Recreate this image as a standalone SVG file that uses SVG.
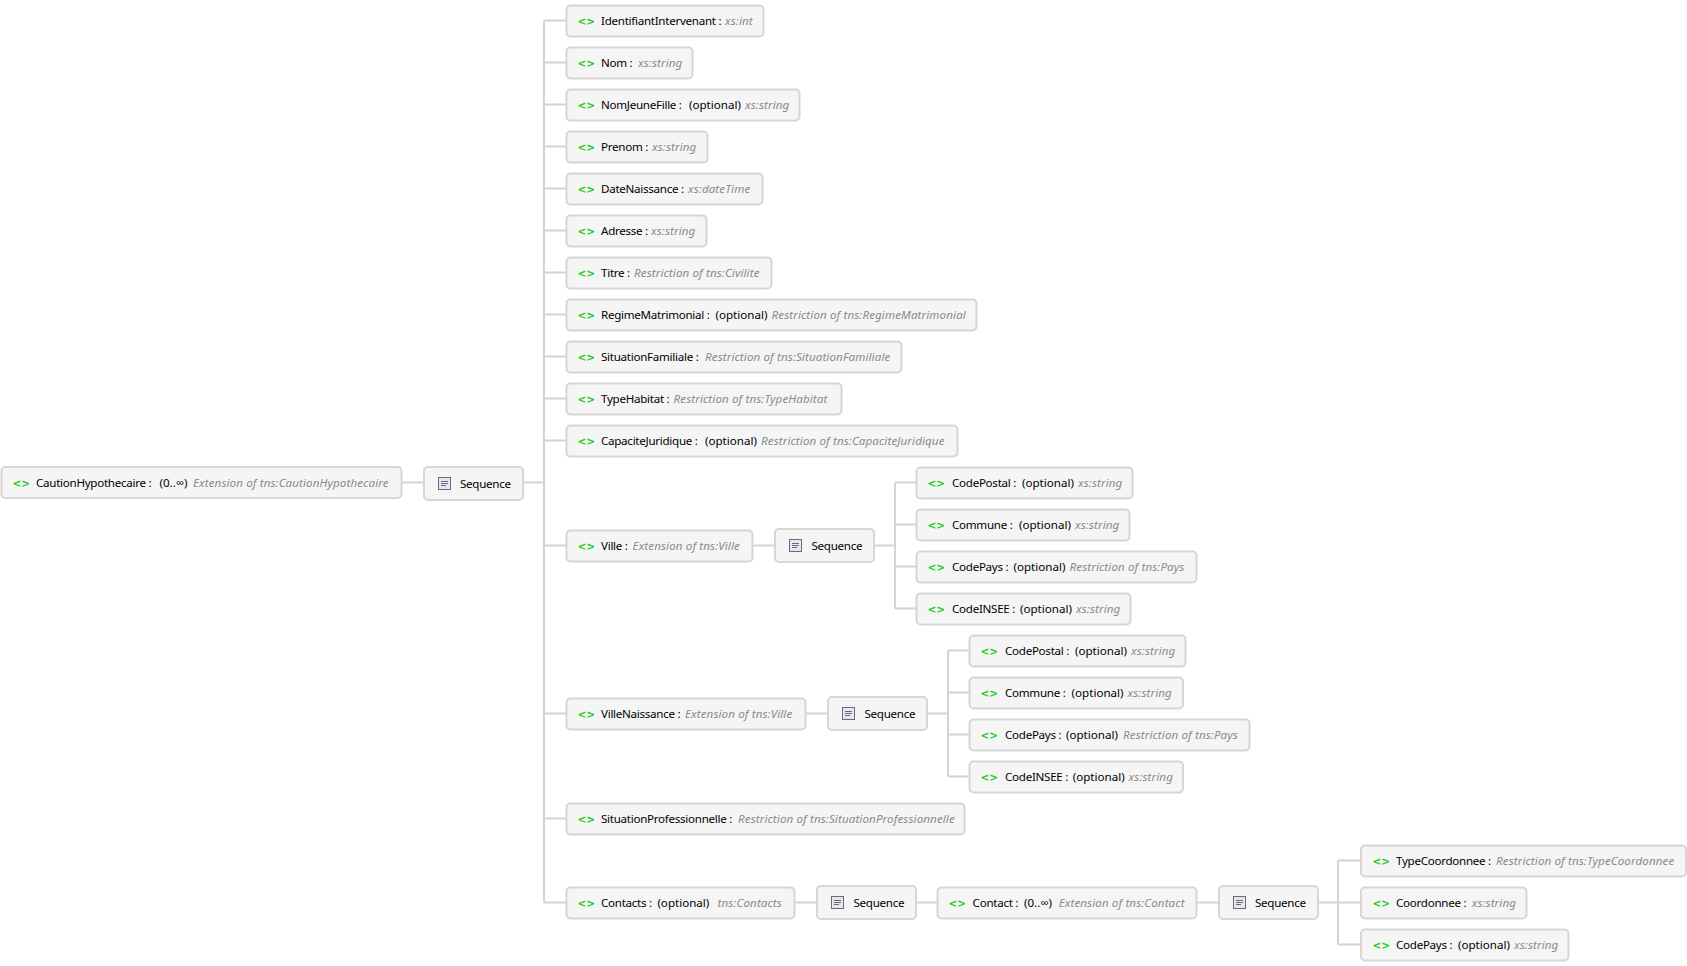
<svg xmlns="http://www.w3.org/2000/svg" width="1687" height="966" viewBox="0 0 1687 966">
<style>
text{font-family:"Noto Sans","Open Sans",sans-serif;font-size:11.6px;fill:#000;letter-spacing:-.28px}
.b{fill:#f5f5f5;stroke:#d6d6d6;stroke-width:2;transform:translateX(-.5px)}
.s{fill:#f5f5f5;stroke:#d6d6d6;stroke-width:2}
.i{fill:#22cc22;font-weight:700;font-size:10.5px;font-family:"DejaVu Sans",sans-serif;letter-spacing:0;transform:translate(-.5px,-1.5px)}
.o{letter-spacing:0}
.t{fill:#8a8a8a;font-style:italic;letter-spacing:.1px}
.c{fill:none;stroke:#d4d4d4;stroke-width:2}
.q{fill:#e6e6ee;stroke:#6a6a7a;stroke-width:1}
.l{fill:none;stroke:#6a6a7a;stroke-width:1}
</style>
<defs>
<g id="seqicon"><rect class="q" x="0.5" y="0.5" width="12" height="12"/><path class="l" d="M3 4.500h7M3 6.500h7M3 8.500h5"/></g>
</defs>
<rect width="1687" height="966" fill="#fff"/>
<g id="connectors">
<path class="c" d="M402 482.5H424M523 482.5H544M544 20.5V903M544 20.5H566M544 62.5H566M544 104.5H566M544 146.5H566M544 188.5H566M544 230.5H566M544 272.5H566M544 314.5H566M544 356.5H566M544 398.5H566M544 440.5H566M544 545.5H566M544 713.5H566M544 818.5H566M544 902.5H566"/>
<path class="c" d="M753 545.5H775M874 545.5H895M895 482.5V608.5M895 482.5H917M895 524.5H917M895 566.5H917M895 608.5H917"/>
<path class="c" d="M806 713.5H828M927 713.5H948M948 650.5V776.5M948 650.5H970M948 692.5H970M948 734.5H970M948 776.5H970"/>
<path class="c" d="M795 902.5H817M917 902.5H938M1197 902.5H1219M1318 902.5H1338M1338 860.5V944.5M1338 860.5H1361M1338 902.5H1361M1338 944.5H1361"/>
</g>
<g id="root"><rect class="b" x="2" y="467" width="400" height="31" rx="4"/><text class="i" x="13" y="488">&lt;&gt;</text><text x="36" y="487">CautionHypothecaire :</text><text class="o" x="159.500" y="487">(0..∞)</text><text class="t" x="193" y="487">Extension of tns:CautionHypothecaire</text></g>
<g id="seq0"><rect class="s" x="424" y="467" width="99" height="33" rx="4"/><use href="#seqicon" x="438" y="477"/><text x="460" y="488">Sequence</text></g>
<g id="n0"><rect class="b" x="567" y="5.500" width="197" height="31" rx="4"/><text class="i" x="578" y="26">&lt;&gt;</text><text x="601" y="25">IdentifiantIntervenant :</text><text class="t" x="725" y="25">xs:int</text></g>
<g id="n1"><rect class="b" x="567" y="47.500" width="126" height="31" rx="4"/><text class="i" x="578" y="68">&lt;&gt;</text><text x="601" y="67">Nom :</text><text class="t" x="638" y="67">xs:string</text></g>
<g id="n2"><rect class="b" x="567" y="89.500" width="233" height="31" rx="4"/><text class="i" x="578" y="110">&lt;&gt;</text><text x="601" y="109">NomJeuneFille :</text><text class="o" x="689" y="109">(optional)</text><text class="t" x="745" y="109">xs:string</text></g>
<g id="n3"><rect class="b" x="567" y="131.500" width="141" height="31" rx="4"/><text class="i" x="578" y="152">&lt;&gt;</text><text x="601" y="151">Prenom :</text><text class="t" x="652" y="151">xs:string</text></g>
<g id="n4"><rect class="b" x="567" y="173.500" width="196" height="31" rx="4"/><text class="i" x="578" y="194">&lt;&gt;</text><text x="601" y="193">DateNaissance :</text><text class="t" x="688" y="193">xs:dateTime</text></g>
<g id="n5"><rect class="b" x="567" y="215.500" width="140" height="31" rx="4"/><text class="i" x="578" y="236">&lt;&gt;</text><text x="601" y="235">Adresse :</text><text class="t" x="651" y="235">xs:string</text></g>
<g id="n6"><rect class="b" x="567" y="257.500" width="205" height="31" rx="4"/><text class="i" x="578" y="278">&lt;&gt;</text><text x="601" y="277">Titre :</text><text class="t" x="634" y="277">Restriction of tns:Civilite</text></g>
<g id="n7"><rect class="b" x="567" y="299.500" width="410" height="31" rx="4"/><text class="i" x="578" y="320">&lt;&gt;</text><text x="601" y="319">RegimeMatrimonial :</text><text class="o" x="715.500" y="319">(optional)</text><text class="t" x="771.500" y="319">Restriction of tns:RegimeMatrimonial</text></g>
<g id="n8"><rect class="b" x="567" y="341.500" width="335" height="31" rx="4"/><text class="i" x="578" y="362">&lt;&gt;</text><text x="601" y="361">SituationFamiliale :</text><text class="t" x="705" y="361">Restriction of tns:SituationFamiliale</text></g>
<g id="n9"><rect class="b" x="567" y="383.500" width="275" height="31" rx="4"/><text class="i" x="578" y="404">&lt;&gt;</text><text x="601" y="403">TypeHabitat :</text><text class="t" x="673.500" y="403">Restriction of tns:TypeHabitat</text></g>
<g id="n10"><rect class="b" x="567" y="425.500" width="391" height="31" rx="4"/><text class="i" x="578" y="446">&lt;&gt;</text><text x="601" y="445">CapaciteJuridique :</text><text class="o" x="705" y="445">(optional)</text><text class="t" x="761" y="445">Restriction of tns:CapaciteJuridique</text></g>
<g id="n11"><rect class="b" x="567" y="530.500" width="186" height="31" rx="4"/><text class="i" x="578" y="551">&lt;&gt;</text><text x="601" y="550">Ville :</text><text class="t" x="632.600" y="550">Extension of tns:Ville</text></g>
<g id="seq1"><rect class="s" x="775" y="529" width="99" height="33" rx="4"/><use href="#seqicon" x="789" y="539"/><text x="811.500" y="550">Sequence</text></g>
<g id="v0"><rect class="b" x="917" y="467.500" width="216" height="31" rx="4"/><text class="i" x="928" y="488">&lt;&gt;</text><text x="952" y="487">CodePostal :</text><text class="o" x="1022" y="487">(optional)</text><text class="t" x="1078" y="487">xs:string</text></g>
<g id="v1"><rect class="b" x="917" y="509.500" width="213" height="31" rx="4"/><text class="i" x="928" y="530">&lt;&gt;</text><text x="952" y="529">Commune :</text><text class="o" x="1019" y="529">(optional)</text><text class="t" x="1075" y="529">xs:string</text></g>
<g id="v2"><rect class="b" x="917" y="551.500" width="280" height="31" rx="4"/><text class="i" x="928" y="572">&lt;&gt;</text><text x="952" y="571">CodePays :</text><text class="o" x="1013.500" y="571">(optional)</text><text class="t" x="1069.500" y="571">Restriction of tns:Pays</text></g>
<g id="v3"><rect class="b" x="917" y="593.500" width="214" height="31" rx="4"/><text class="i" x="928" y="614">&lt;&gt;</text><text x="952" y="613">CodeINSEE :</text><text class="o" x="1020" y="613">(optional)</text><text class="t" x="1076" y="613">xs:string</text></g>
<g id="n12"><rect class="b" x="567" y="698.500" width="239" height="31" rx="4"/><text class="i" x="578" y="719">&lt;&gt;</text><text x="601" y="718">VilleNaissance :</text><text class="t" x="685" y="718">Extension of tns:Ville</text></g>
<g id="seq2"><rect class="s" x="828" y="697" width="99" height="33" rx="4"/><use href="#seqicon" x="842" y="707"/><text x="864.500" y="718">Sequence</text></g>
<g id="w0"><rect class="b" x="970" y="635.500" width="216" height="31" rx="4"/><text class="i" x="981" y="656">&lt;&gt;</text><text x="1005" y="655">CodePostal :</text><text class="o" x="1075" y="655">(optional)</text><text class="t" x="1131" y="655">xs:string</text></g>
<g id="w1"><rect class="b" x="970" y="677.500" width="213.500" height="31" rx="4"/><text class="i" x="981" y="698">&lt;&gt;</text><text x="1005" y="697">Commune :</text><text class="o" x="1071.600" y="697">(optional)</text><text class="t" x="1127.500" y="697">xs:string</text></g>
<g id="w2"><rect class="b" x="970" y="719.500" width="280" height="31" rx="4"/><text class="i" x="981" y="740">&lt;&gt;</text><text x="1005" y="739">CodePays :</text><text class="o" x="1066" y="739">(optional)</text><text class="t" x="1123" y="739">Restriction of tns:Pays</text></g>
<g id="w3"><rect class="b" x="970" y="761.500" width="213.500" height="31" rx="4"/><text class="i" x="981" y="782">&lt;&gt;</text><text x="1005" y="781">CodeINSEE :</text><text class="o" x="1072.700" y="781">(optional)</text><text class="t" x="1128.600" y="781">xs:string</text></g>
<g id="n13"><rect class="b" x="567" y="803.500" width="398" height="31" rx="4"/><text class="i" x="578" y="824">&lt;&gt;</text><text x="601" y="823">SituationProfessionnelle :</text><text class="t" x="738" y="823">Restriction of tns:SituationProfessionnelle</text></g>
<g id="n14"><rect class="b" x="567" y="887.500" width="228" height="31" rx="4"/><text class="i" x="578" y="908">&lt;&gt;</text><text x="601" y="907">Contacts :</text><text class="o" x="657.400" y="907">(optional)</text><text class="t" x="717.600" y="907">tns:Contacts</text></g>
<g id="seq3"><rect class="s" x="817" y="886" width="99" height="33" rx="4"/><use href="#seqicon" x="831" y="896"/><text x="853.500" y="907">Sequence</text></g>
<g id="n15"><rect class="b" x="938" y="887.500" width="259" height="31" rx="4"/><text class="i" x="949" y="908">&lt;&gt;</text><text x="972.600" y="907">Contact :</text><text class="o" x="1024" y="907">(0..∞)</text><text class="t" x="1058.700" y="907">Extension of tns:Contact</text></g>
<g id="seq4"><rect class="s" x="1219" y="886" width="99" height="33" rx="4"/><use href="#seqicon" x="1233" y="896"/><text x="1255" y="907">Sequence</text></g>
<g id="x0"><rect class="b" x="1361.500" y="845.500" width="325" height="31" rx="4"/><text class="i" x="1373" y="866">&lt;&gt;</text><text x="1396" y="865">TypeCoordonnee :</text><text class="t" x="1496" y="865">Restriction of tns:TypeCoordonnee</text></g>
<g id="x1"><rect class="b" x="1361.500" y="887.500" width="165.500" height="31" rx="4"/><text class="i" x="1373" y="908">&lt;&gt;</text><text x="1396" y="907">Coordonnee :</text><text class="t" x="1471.700" y="907">xs:string</text></g>
<g id="x2"><rect class="b" x="1361.500" y="929.500" width="207.500" height="31" rx="4"/><text class="i" x="1373" y="950">&lt;&gt;</text><text x="1396" y="949">CodePays :</text><text class="o" x="1458" y="949">(optional)</text><text class="t" x="1514" y="949">xs:string</text></g>
</svg>
